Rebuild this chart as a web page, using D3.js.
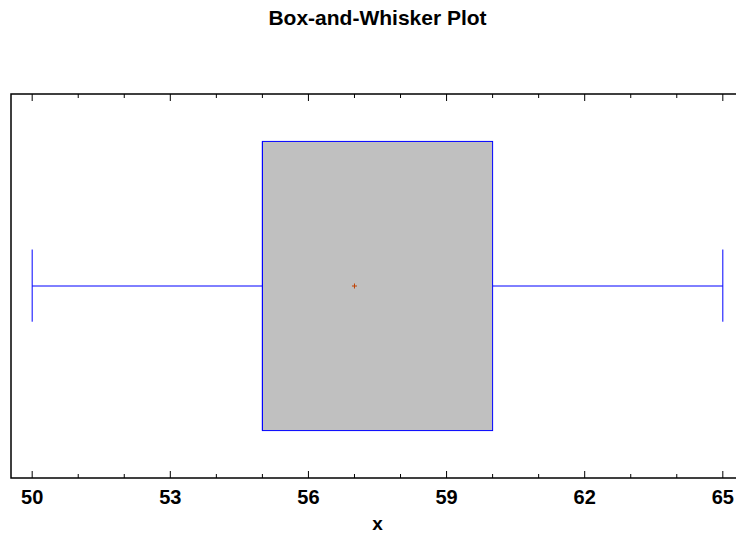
<!DOCTYPE html>
<html>
<head>
<meta charset="utf-8">
<script src="https://cdn.jsdelivr.net/npm/d3@7"></script>
<style>
  body { margin: 0; background: #fff; }
  svg { display: block; font-family: Arial, "Liberation Sans", sans-serif; }
</style>
</head>
<body>
<div id="chart"></div>
<script>
// five-number summary
const minimum = 50
const q1 = 55
const median = 55
const q3 = 60
const maximum = 65
const mean = 57

const majorTicks = [50, 53, 56, 59, 62, 65]
const minorTicks = d3.range(50, 66, 1)

const width = 736, height = 534
const margin = { top: 94, right: -8, bottom: 56, left: 11 }

const svg = d3.select('#chart').append('svg')
  .attr('width', width)
  .attr('height', height)

const x = d3.scaleLinear()
  .domain([49.54, 65.46])
  .range([margin.left, width - margin.right])

const y = d3.scaleLinear()
  .domain([0, 1])
  .range([height - margin.bottom, margin.top])

// title
svg.append('text')
  .attr('x', 377.5).attr('y', 25)
  .attr('text-anchor', 'middle')
  .style('font-size', '21px').style('font-weight', 'bold')
  .text('Box-and-Whisker Plot')

const plot = svg.append('g')

// frame
plot.append('rect')
  .attr('x', x.range()[0]).attr('y', y(1))
  .attr('width', x.range()[1] - x.range()[0])
  .attr('height', y(0) - y(1))
  .attr('fill', 'none').attr('stroke', '#000').attr('stroke-width', 1.5)

// ticks, bottom and top, pointing inward
const tickLen = v => majorTicks.includes(v) ? 7 : 4
plot.selectAll('.tb').data(minorTicks).enter().append('line')
  .attr('x1', d => x(d)).attr('x2', d => x(d))
  .attr('y1', y(0)).attr('y2', d => y(0) - tickLen(d))
  .attr('stroke', '#000')
plot.selectAll('.tt').data(minorTicks).enter().append('line')
  .attr('x1', d => x(d)).attr('x2', d => x(d))
  .attr('y1', y(1)).attr('y2', d => y(1) + tickLen(d))
  .attr('stroke', '#000')

plot.selectAll('.tl').data(majorTicks).enter().append('text')
  .attr('x', d => x(d)).attr('y', 504)
  .attr('text-anchor', 'middle')
  .style('font-size', '20px').style('font-weight', 'bold')
  .text(d => d)

svg.append('text')
  .attr('x', 377.5).attr('y', 530)
  .attr('text-anchor', 'middle')
  .style('font-size', '19px').style('font-weight', 'bold')
  .text('x')

// whiskers
const mid = y(0.5)
const blue = '#0000ff'
plot.append('line')
  .attr('x1', x(minimum)).attr('x2', x(q1))
  .attr('y1', mid).attr('y2', mid)
  .attr('stroke', blue)
plot.append('line')
  .attr('x1', x(q3)).attr('x2', x(maximum))
  .attr('y1', mid).attr('y2', mid)
  .attr('stroke', blue)
plot.selectAll('.cap').data([minimum, maximum]).enter().append('line')
  .attr('x1', d => x(d)).attr('x2', d => x(d))
  .attr('y1', y(0.595)).attr('y2', y(0.407))
  .attr('stroke', blue)

// box
plot.append('rect')
  .attr('x', x(q1)).attr('y', y(0.8765))
  .attr('width', x(q3) - x(q1))
  .attr('height', y(0.1235) - y(0.8765))
  .attr('fill', '#c0c0c0').attr('stroke', blue)

plot.append('line')
  .attr('x1', x(median)).attr('x2', x(median))
  .attr('y1', y(0.8765)).attr('y2', y(0.1235))
  .attr('stroke', blue)

// mean marker
plot.append('path')
  .attr('d', `M${x(mean) - 2.5},${mid}h5M${x(mean)},${mid - 2.5}v5`)
  .attr('stroke', '#c04000').attr('stroke-width', 1)
</script>
</body>
</html>
